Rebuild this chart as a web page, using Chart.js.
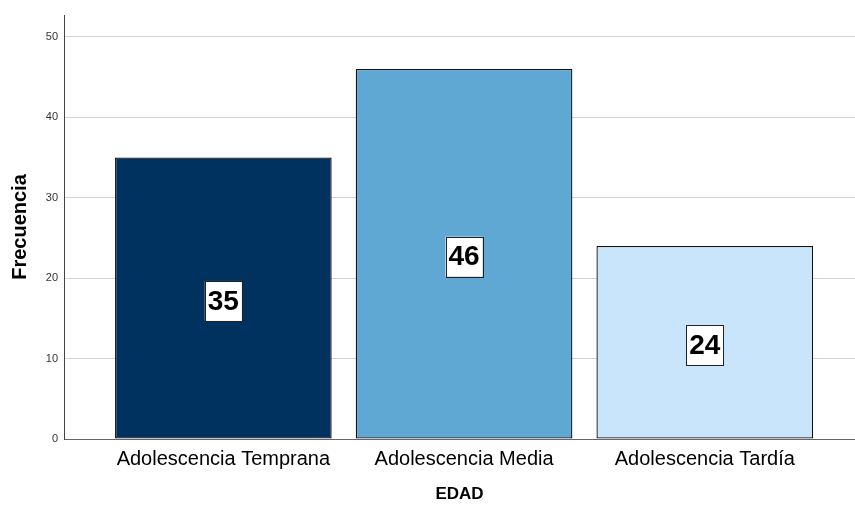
<!DOCTYPE html>
<html>
<head>
<meta charset="utf-8">
<script src="https://cdn.jsdelivr.net/npm/chart.js@4.4.1/dist/chart.umd.min.js"></script>
<style>
  html, body { margin: 0; padding: 0; background: #fff; }
  #wrap { width: 855px; height: 506px; }
</style>
</head>
<body>
<div id="wrap"><canvas id="edadChart" width="855" height="506"></canvas></div>
<script>
// age groups and their counts
const categories = ['Adolescencia Temprana', 'Adolescencia Media', 'Adolescencia Tardía'];
const counts = [35, 46, 24];
const barColors = ['#00325F', '#5FA8D3', '#C9E5FB'];
const yTicks = [0, 10, 20, 30, 40, 50];

const FONT = "'Liberation Sans', Arial, sans-serif";

// white boxed value in the middle of each bar
const valueBoxes = {
    id: 'valueBoxes',
    afterDatasetsDraw(chart) {
        const ctx = chart.ctx;
        const meta = chart.getDatasetMeta(0);
        ctx.save();
        ctx.font = `bold 28px ${FONT}`;
        ctx.textAlign = 'center';
        ctx.textBaseline = 'middle';
        meta.data.forEach((bar, i) => {
            const txt = String(counts[i]);
            const cx = bar.x;
            const cy = (bar.y + bar.base) / 2 + 3;
            const w = ctx.measureText(txt).width + 6;
            const h = 40;
            ctx.fillStyle = '#fff';
            ctx.fillRect(cx - w / 2, cy - h / 2, w, h);
            ctx.strokeStyle = '#222';
            ctx.lineWidth = 1;
            ctx.strokeRect(Math.round(cx - w / 2) + 0.5, Math.round(cy - h / 2) + 0.5, Math.round(w), h);
            ctx.fillStyle = '#000';
            ctx.fillText(txt, cx, cy + 1);
        });
        ctx.restore();
    }
};

new Chart(document.getElementById('edadChart'), {
    type: 'bar',
    data: {
        datasets: [{
            data: counts.map((v, i) => ({ x: i, y: v })),
            backgroundColor: barColors,
            borderColor: '#111',
            borderWidth: 1.3,
            borderSkipped: false,
            barPercentage: 0.9,
            categoryPercentage: 1
        }]
    },
    options: {
        responsive: false,
        animation: false,
        layout: { padding: { top: 15, right: 0, left: 0, bottom: 0 } },
        plugins: { legend: { display: false }, tooltip: { enabled: false } },
        scales: {
            x: {
                type: 'linear',
                offset: false,
                min: -0.662,
                max: 2.624,
                afterBuildTicks: (s) => { s.ticks = categories.map((_, i) => ({ value: i })); },
                afterFit: (s) => { s.height = 67; },
                grid: { display: false, drawTicks: false, offset: false },
                border: { color: '#666', width: 1 },
                ticks: {
                    padding: 8,
                    color: '#000',
                    font: { family: FONT, size: 20 },
                    callback: (v) => categories[v] ?? ''
                },
                title: {
                    display: true,
                    text: 'EDAD',
                    color: '#000',
                    font: { family: FONT, size: 17, weight: 'bold' },
                    padding: { top: 0, bottom: 1 }
                }
            },
            y: {
                min: 0,
                max: 52.7,
                afterBuildTicks: (s) => { s.ticks = yTicks.map(v => ({ value: v })); },
                afterFit: (s) => { s.width = 64; },
                grid: { color: '#d4d4d4', drawTicks: false },
                border: { color: '#444', width: 1 },
                ticks: {
                    padding: 6,
                    color: '#333',
                    font: { family: FONT, size: 11 }
                },
                title: {
                    display: true,
                    text: 'Frecuencia',
                    color: '#000',
                    font: { family: FONT, size: 20, weight: 'bold' },
                    padding: { top: 8, bottom: 0 }
                }
            }
        }
    },
    plugins: [valueBoxes]
});
</script>
</body>
</html>
